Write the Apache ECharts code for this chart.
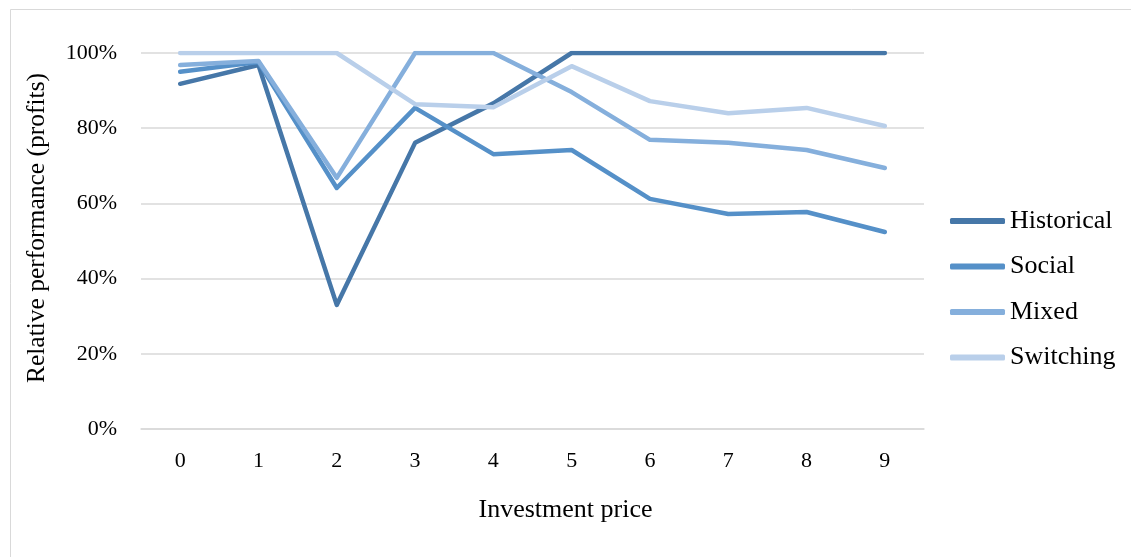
<!DOCTYPE html>
<html>
<head>
<meta charset="utf-8">
<script src="https://cdn.jsdelivr.net/npm/echarts@6/dist/echarts.min.js"></script>
<style>
  html, body { margin: 0; padding: 0; background: #fff; }
  #chart { width: 1131px; height: 557px; }
</style>
</head>
<body>
<div id="chart"></div>
<script>
// investment price categories
const prices = ['0', '1', '2', '3', '4', '5', '6', '7', '8', '9']
// relative performance (%)
const historical = [91.8, 96.8, 33.0, 76.1, 86.6, 100, 100, 100, 100, 100]
const social = [95.0, 97.6, 64.1, 85.4, 73.1, 74.2, 61.2, 57.2, 57.7, 52.4]
const mixed = [96.8, 97.9, 66.8, 100, 100, 89.6, 76.9, 76.1, 74.2, 69.4]
const switching = [100, 100, 100, 86.4, 85.6, 96.5, 87.2, 84.0, 85.4, 80.6]

const font = '"Liberation Serif", "Times New Roman", serif'

const chart = echarts.init(document.getElementById('chart'))

function line(name, data, color) {
  return {
    name: name,
    type: 'line',
    data: data,
    symbol: 'none',
    lineStyle: { width: 4.5, color: color, cap: 'round', join: 'round' },
    itemStyle: { color: color }
  }
}

chart.setOption({
  animation: false,
  backgroundColor: '#fff',
  textStyle: { fontFamily: font },
  // light frame round the chart area
  graphic: [
    {
      type: 'rect',
      shape: { x: 10.5, y: 9.5, width: 1130, height: 560 },
      style: { fill: 'none', stroke: '#d9d9d9', lineWidth: 1 },
      silent: true
    }
  ],
  grid: {
    left: 141,
    right: 207,
    top: 53,
    bottom: 128
  },
  legend: {
    orient: 'vertical',
    left: 950,
    top: 208,
    padding: 0,
    icon: 'roundRect',
    itemWidth: 55,
    itemHeight: 6,
    itemGap: 19.5,
    textStyle: { fontFamily: font, fontSize: 26, color: '#000' },
    data: ['Historical', 'Social', 'Mixed', 'Switching']
  },
  xAxis: {
    type: 'category',
    data: prices,
    name: 'Investment price',
    nameLocation: 'middle',
    nameGap: 68,
    nameTextStyle: { fontFamily: font, fontSize: 26, color: '#000', padding: [0, 0, 0, 66] },
    axisLine: { lineStyle: { color: '#d9d9d9', width: 1.5 } },
    axisTick: { show: false },
    axisLabel: { fontFamily: font, fontSize: 22, color: '#000', margin: 21 }
  },
  yAxis: {
    type: 'value',
    min: 0,
    max: 100,
    interval: 20,
    name: 'Relative performance (profits)',
    nameLocation: 'middle',
    nameGap: 91,
    nameTextStyle: { fontFamily: font, fontSize: 25.5, color: '#000', padding: [0, 0, 0, 26] },
    axisLine: { show: false },
    axisTick: { show: false },
    axisLabel: {
      fontFamily: font,
      fontSize: 22,
      color: '#000',
      margin: 24,
      formatter: '{value}%'
    },
    splitLine: { lineStyle: { color: '#d9d9d9', width: 1.5 } }
  },
  series: [
    line('Historical', historical, '#4677a8'),
    line('Social', social, '#5590c8'),
    line('Mixed', mixed, '#85afdc'),
    line('Switching', switching, '#b9cfea')
  ]
})
</script>
</body>
</html>
